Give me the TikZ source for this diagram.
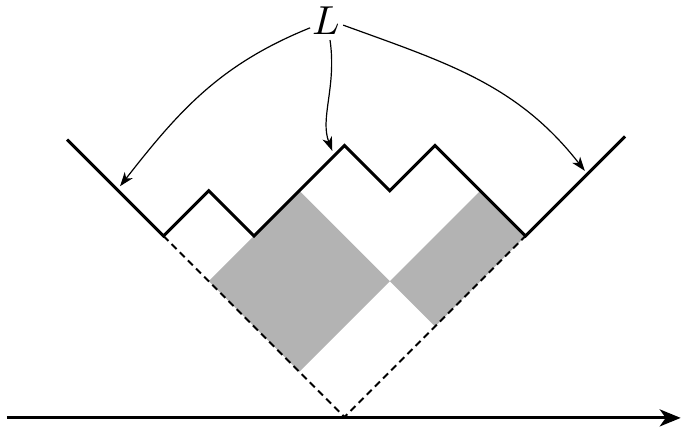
\documentclass[tikz,border=0pt]{standalone}
\usetikzlibrary{arrows.meta}
\definecolor{boxgray}{RGB}{179,179,179}
\tikzset{
  profile/.style={line width=3pt, line join=miter},
  baseline/.style={line width=2.1pt, dash pattern=on 7pt off 4.5pt},
  axisline/.style={line width=3pt, -{Stealth[length=21pt,width=17pt,inset=6pt]}},
  pointer/.style={line width=1.2pt, -{Stealth[length=14pt,width=10pt,inset=4pt]}},
  shade/.style={fill=boxgray, draw=none}
}
\begin{document}
\begin{tikzpicture}[x=45.25pt,y=45.25pt]
\useasboundingbox (-7.613,-0.287) rectangle (7.436,9.215);
% shaded boxes
\fill[shade] (-3,3) -- (-1,5) -- (1,3) -- (-1,1) -- cycle;
\fill[shade] (1,3) -- (3,5) -- (4,4) -- (2,2) -- cycle;
% coordinates
\coordinate (O) at (0,0);
\coordinate (BL) at (-4,4);
\coordinate (BR) at (4,4);
\coordinate (LE) at (-6.13,6.13);
\coordinate (RE) at (6.2,6.2);
\coordinate (AxL) at (-7.46,-0.02);
\coordinate (AxR) at (7.43,-0.02);
% dashed base
\draw[baseline] (BL) -- (O) -- (BR);
% profile
\draw[profile] (LE) -- (BL) -- (-3,5) -- (-2,4) -- (0,6) -- (1,5) -- (2,6) -- (BR) -- (RE);
% axis
\draw[axisline] (AxL) -- (AxR);
% label and pointers
\node[inner sep=0pt] (L) at (-0.41,8.75) {\scalebox{4.05}{$L$}};
\coordinate (s1) at (-0.76,8.60);
\coordinate (e1) at (-4.96,5.10);
\coordinate (s2) at (-0.32,8.33);
\coordinate (e2) at (-0.27,5.88);
\coordinate (s3) at (-0.03,8.66);
\coordinate (e3) at (5.31,5.44);
\draw[pointer] (s1) to[out=202, in=52] (e1);
\draw[pointer] (s2) .. controls (-0.17,7.3) and (-0.55,6.6) .. (e2);
\draw[pointer] (s3) to[out=-20, in=128] (e3);
\end{tikzpicture}
\end{document}
